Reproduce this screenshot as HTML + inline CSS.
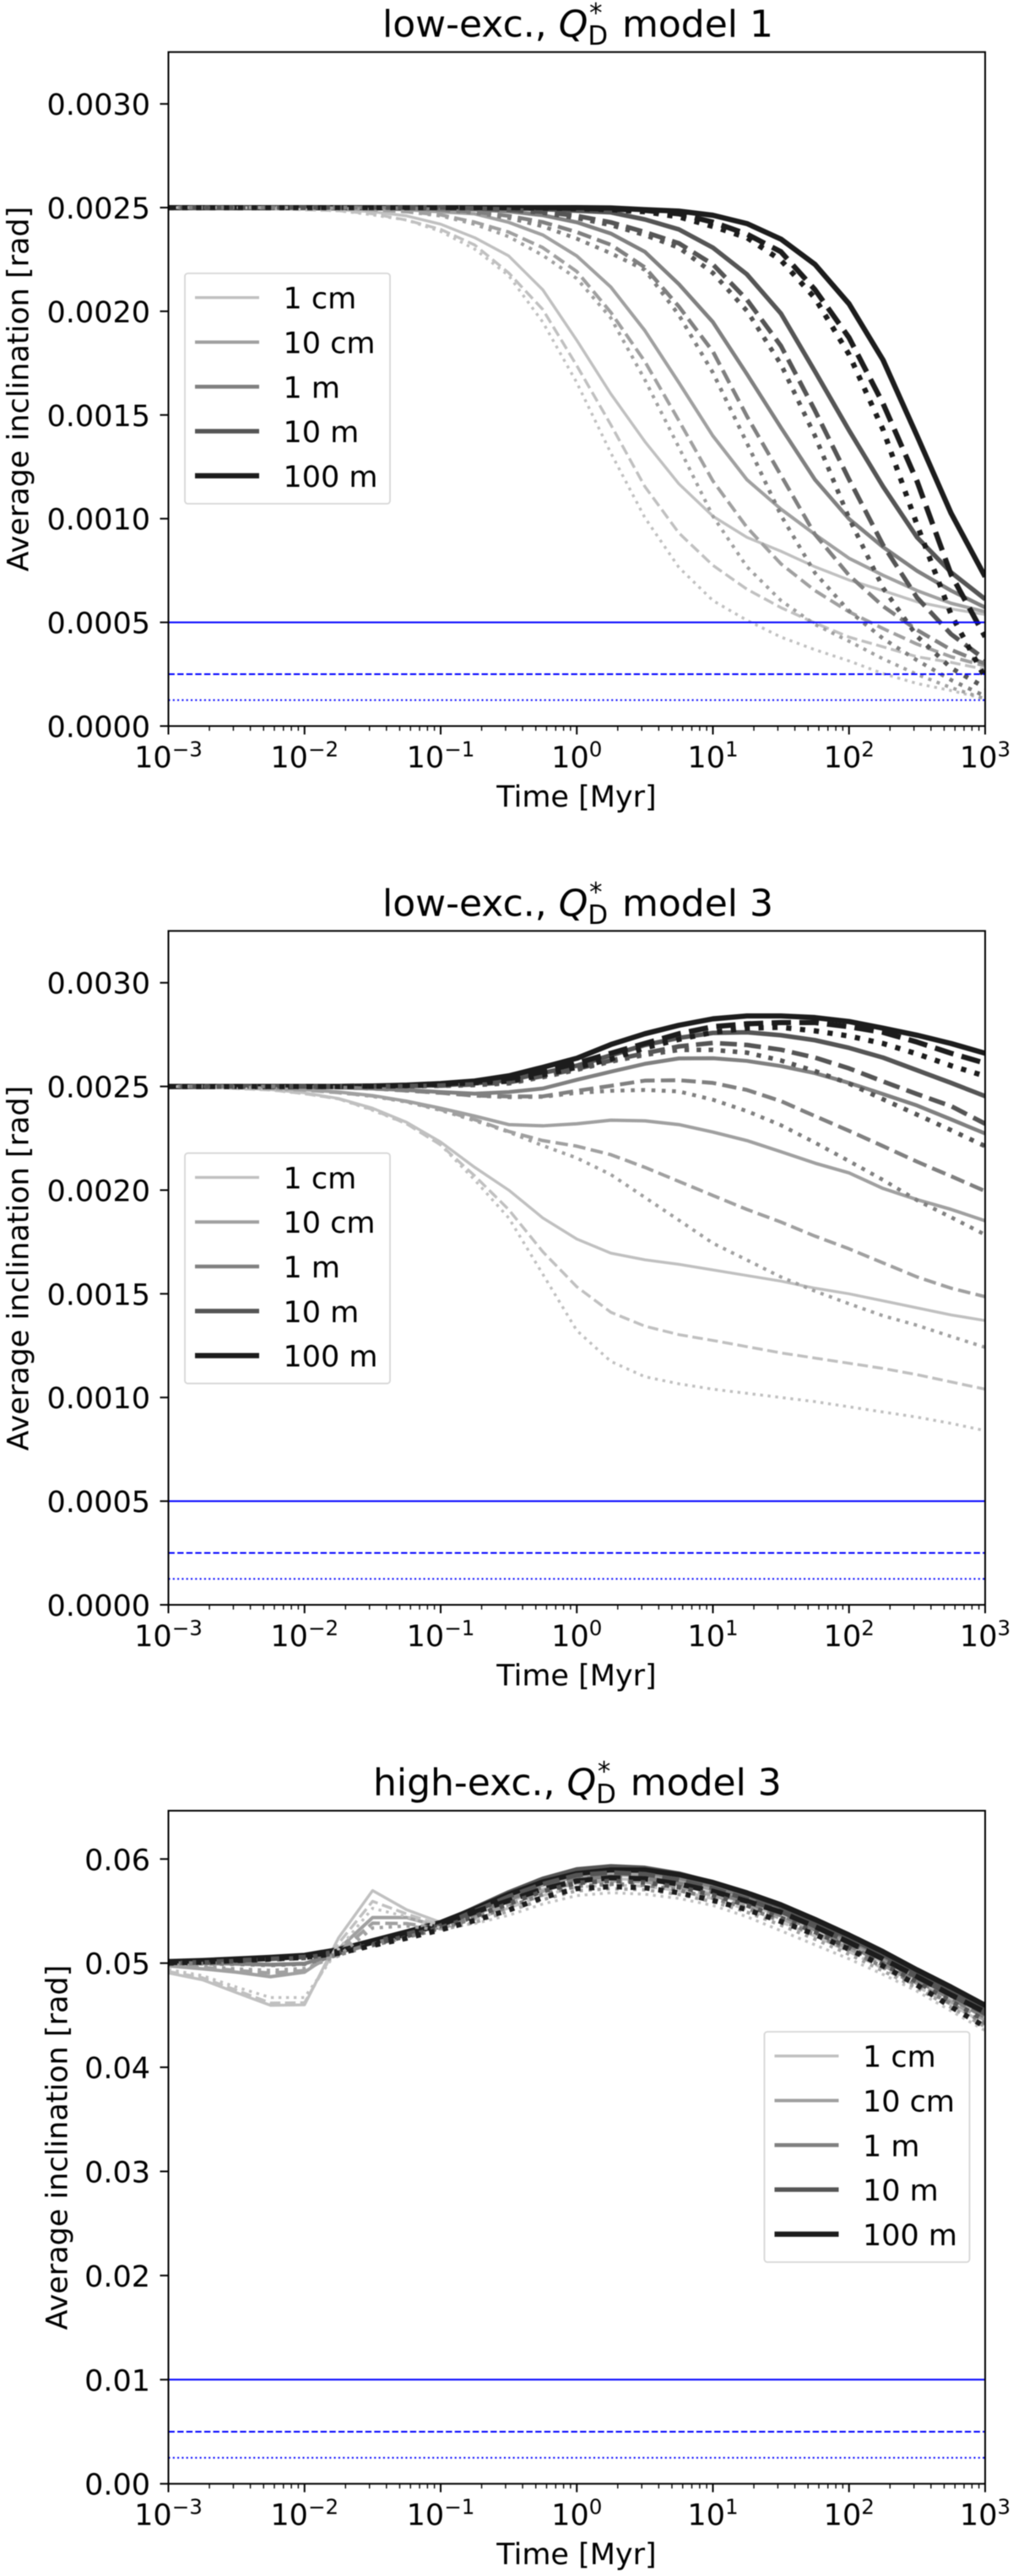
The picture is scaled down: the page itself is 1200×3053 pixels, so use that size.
<!DOCTYPE html>
<html lang="en">
<head>
<meta charset="utf-8">
<title>Average inclination over time</title>
<style>
html,body{margin:0;padding:0;background:#fff;}
svg{display:block;filter:blur(0.45px);}
text{font-family:"DejaVu Sans","Liberation Sans",sans-serif;fill:#000;}
</style>
</head>
<body>
<svg id="figure" xmlns="http://www.w3.org/2000/svg" width="1200" height="3053" viewBox="0 0 1200 3053">
  <rect x="0" y="0" width="1200" height="3053" fill="#fff"/>

  <text x="453" y="43.3" font-size="44">low-exc., <tspan font-style="italic">Q</tspan><tspan font-size="30.8" dy="9.5">D</tspan><tspan font-size="30.8" dx="-22" dy="-27">*</tspan><tspan dx="9.5" dy="17.5"> model 1</tspan></text>
  <text x="453" y="1085.3" font-size="44">low-exc., <tspan font-style="italic">Q</tspan><tspan font-size="30.8" dy="9.5">D</tspan><tspan font-size="30.8" dx="-22" dy="-27">*</tspan><tspan dx="9.5" dy="17.5"> model 3</tspan></text>
  <text x="442" y="2127.5" font-size="44">high-exc., <tspan font-style="italic">Q</tspan><tspan font-size="30.8" dy="9.5">D</tspan><tspan font-size="30.8" dx="-22" dy="-27">*</tspan><tspan dx="9.5" dy="17.5"> model 3</tspan></text>

  <text transform="translate(33.7 461) rotate(-90)" text-anchor="middle" font-size="35">Average inclination [rad]</text>
  <text transform="translate(33.7 1503) rotate(-90)" text-anchor="middle" font-size="35">Average inclination [rad]</text>
  <text transform="translate(79.7 2545) rotate(-90)" text-anchor="middle" font-size="35">Average inclination [rad]</text>

  <text x="683" y="956" text-anchor="middle" font-size="35">Time [Myr]</text>
  <text x="683" y="1997.5" text-anchor="middle" font-size="35">Time [Myr]</text>
  <text x="683" y="3039" text-anchor="middle" font-size="35">Time [Myr]</text>
</svg>

<script>
// Shared x grid: log10 of time in Myr
const logTime = [-3,-2.75,-2.5,-2.25,-2,-1.75,-1.5,-1.25,-1,-0.75,-0.5,-0.25,0,0.25,0.5,0.75,1,1.25,1.5,1.75,2,2.25,2.5,2.75,3];
const xTickExponents = [-3,-2,-1,0,1,2,3];
const xTickLabels = ['\u22123','\u22122','\u22121','0','1','2','3'];
const xTickBase = '10';
const sizeLabels = ['1 cm','10 cm','1 m','10 m','100 m'];

// All inclination values below are in units of 10^-3 rad.
// Panel 1: low-exc., model 1
const p1Cm1Solid = [2.5,2.5,2.5,2.498,2.495,2.49,2.48,2.46,2.42,2.355,2.267,2.104,1.86,1.602,1.372,1.168,1.012,0.91,0.843,0.768,0.704,0.653,0.599,0.565,0.538];
const p1Cm1Dashed = [2.5,2.5,2.5,2.497,2.49,2.485,2.47,2.44,2.395,2.32,2.185,2.009,1.738,1.453,1.155,0.931,0.775,0.66,0.571,0.497,0.429,0.382,0.334,0.307,0.273];
const p1Cm1Dotted = [2.5,2.5,2.5,2.497,2.49,2.485,2.465,2.44,2.385,2.3,2.172,1.948,1.656,1.317,1.005,0.765,0.605,0.51,0.429,0.368,0.314,0.253,0.205,0.171,0.131];
const p1Cm10Solid = [2.5,2.5,2.5,2.5,2.5,2.498,2.495,2.49,2.48,2.47,2.429,2.368,2.267,2.117,1.907,1.656,1.399,1.188,1.046,0.924,0.809,0.727,0.653,0.592,0.551];
const p1Cm10Dashed = [2.5,2.5,2.5,2.5,2.5,2.497,2.49,2.48,2.465,2.43,2.382,2.307,2.192,1.995,1.758,1.473,1.182,0.958,0.782,0.653,0.551,0.47,0.395,0.334,0.29];
const p1Cm10Dotted = [2.5,2.5,2.5,2.5,2.5,2.497,2.49,2.48,2.46,2.42,2.36,2.27,2.158,1.968,1.67,1.344,1.012,0.768,0.605,0.49,0.409,0.324,0.249,0.185,0.131];
const p1M1Solid = [2.5,2.5,2.5,2.5,2.5,2.5,2.5,2.498,2.495,2.49,2.482,2.463,2.429,2.375,2.287,2.131,1.948,1.697,1.439,1.188,0.999,0.863,0.748,0.653,0.572];
const p1M1Dashed = [2.5,2.5,2.5,2.5,2.5,2.5,2.5,2.497,2.49,2.48,2.46,2.43,2.382,2.321,2.212,2.023,1.806,1.494,1.209,0.924,0.727,0.578,0.463,0.368,0.3];
const p1M1Dotted = [2.5,2.5,2.5,2.5,2.5,2.5,2.5,2.497,2.49,2.475,2.45,2.41,2.35,2.28,2.2,1.982,1.704,1.365,1.016,0.738,0.555,0.422,0.317,0.222,0.144];
const p1M10Solid = [2.5,2.5,2.5,2.5,2.5,2.5,2.5,2.5,2.5,2.499,2.497,2.493,2.485,2.477,2.443,2.395,2.307,2.178,1.989,1.71,1.426,1.155,0.91,0.741,0.612];
const p1M10Dashed = [2.5,2.5,2.5,2.5,2.5,2.5,2.5,2.5,2.5,2.497,2.49,2.48,2.46,2.429,2.382,2.328,2.226,2.056,1.833,1.521,1.19,0.873,0.619,0.443,0.321];
const p1M10Dotted = [2.5,2.5,2.5,2.5,2.5,2.5,2.5,2.5,2.5,2.497,2.49,2.475,2.45,2.416,2.368,2.307,2.185,2.002,1.744,1.399,1.003,0.666,0.433,0.28,0.185];
const p1M100Solid = [2.5,2.5,2.5,2.5,2.5,2.5,2.5,2.5,2.5,2.5,2.5,2.5,2.5,2.498,2.49,2.483,2.463,2.423,2.348,2.226,2.036,1.765,1.399,1.026,0.72];
const p1M100Dashed = [2.5,2.5,2.5,2.5,2.5,2.5,2.5,2.5,2.5,2.5,2.5,2.5,2.497,2.493,2.487,2.47,2.43,2.372,2.287,2.104,1.873,1.555,1.18,0.73,0.43];
const p1M100Dotted = [2.5,2.5,2.5,2.5,2.5,2.5,2.5,2.5,2.5,2.5,2.5,2.498,2.495,2.49,2.48,2.455,2.409,2.355,2.246,2.063,1.792,1.429,0.97,0.538,0.233];

// Panel 2: low-exc., model 3
const p2Cm1Solid = [2.5,2.497,2.492,2.485,2.469,2.442,2.395,2.327,2.232,2.11,2.0,1.866,1.764,1.696,1.664,1.642,1.615,1.588,1.561,1.527,1.5,1.466,1.432,1.398,1.371];
const p2Cm1Dashed = [2.5,2.497,2.49,2.483,2.465,2.44,2.388,2.32,2.218,2.069,1.906,1.703,1.534,1.411,1.344,1.303,1.275,1.245,1.215,1.19,1.165,1.14,1.11,1.075,1.04];
const p2Cm1Dotted = [2.5,2.497,2.49,2.483,2.465,2.44,2.385,2.32,2.218,2.049,1.866,1.595,1.323,1.174,1.1,1.066,1.04,1.02,1.0,0.98,0.955,0.93,0.905,0.875,0.84];
const p2Cm10Solid = [2.5,2.5,2.497,2.492,2.485,2.473,2.456,2.429,2.395,2.357,2.316,2.31,2.32,2.337,2.334,2.316,2.28,2.239,2.185,2.13,2.083,2.008,1.954,1.907,1.852];
const p2Cm10Dashed = [2.5,2.5,2.497,2.49,2.483,2.47,2.454,2.427,2.388,2.34,2.283,2.239,2.212,2.171,2.11,2.042,1.974,1.907,1.846,1.778,1.717,1.649,1.581,1.527,1.486];
const p2Cm10Dotted = [2.5,2.5,2.497,2.49,2.483,2.47,2.452,2.425,2.385,2.335,2.28,2.215,2.155,2.075,1.965,1.855,1.744,1.663,1.581,1.513,1.452,1.394,1.348,1.294,1.242];
const p2M1Solid = [2.5,2.5,2.5,2.5,2.498,2.495,2.49,2.483,2.473,2.465,2.473,2.49,2.532,2.571,2.609,2.635,2.636,2.623,2.598,2.564,2.517,2.463,2.408,2.341,2.273];
const p2M1Dashed = [2.5,2.5,2.5,2.5,2.498,2.495,2.49,2.48,2.469,2.456,2.452,2.452,2.479,2.503,2.528,2.53,2.517,2.483,2.429,2.357,2.286,2.212,2.137,2.067,1.995];
const p2M1Dotted = [2.5,2.5,2.5,2.5,2.498,2.495,2.49,2.48,2.469,2.456,2.448,2.45,2.469,2.479,2.483,2.476,2.436,2.381,2.313,2.229,2.14,2.049,1.951,1.869,1.785];
const p2M10Solid = [2.5,2.5,2.5,2.5,2.5,2.5,2.5,2.503,2.506,2.515,2.53,2.565,2.6,2.65,2.7,2.734,2.758,2.761,2.747,2.723,2.686,2.639,2.578,2.517,2.453];
const p2M10Dashed = [2.5,2.5,2.5,2.5,2.5,2.5,2.5,2.502,2.504,2.51,2.52,2.55,2.585,2.625,2.66,2.693,2.71,2.7,2.677,2.639,2.587,2.524,2.463,2.405,2.32];
const p2M10Dotted = [2.5,2.5,2.5,2.5,2.5,2.5,2.5,2.501,2.503,2.507,2.515,2.545,2.58,2.62,2.652,2.676,2.676,2.663,2.625,2.574,2.514,2.438,2.364,2.289,2.212];
const p2M100Solid = [2.5,2.5,2.5,2.5,2.5,2.5,2.502,2.506,2.514,2.526,2.551,2.592,2.636,2.702,2.754,2.795,2.826,2.84,2.84,2.832,2.813,2.781,2.747,2.707,2.66];
const p2M100Dashed = [2.5,2.5,2.5,2.5,2.5,2.5,2.501,2.505,2.512,2.522,2.537,2.571,2.612,2.66,2.707,2.754,2.788,2.802,2.808,2.808,2.788,2.761,2.714,2.66,2.612];
const p2M100Dotted = [2.5,2.5,2.5,2.5,2.5,2.5,2.501,2.504,2.51,2.518,2.525,2.555,2.592,2.632,2.686,2.727,2.761,2.781,2.785,2.768,2.743,2.707,2.657,2.6,2.55];

// Panel 3: high-exc., model 3
const p3Cm1Solid = [49.06,48.4,47.16,45.95,46.0,52.43,56.97,55.13,53.92,54.6,55.9,57.1,57.9,58.1,58.0,57.5,56.7,55.7,54.5,53.15,51.7,50.1,48.35,46.6,44.8];
const p3Cm1Dashed = [49.2,48.6,47.4,46.17,46.2,51.9,55.94,54.73,53.65,54.2,55.3,56.5,57.3,57.5,57.4,56.95,56.2,55.15,53.95,52.6,51.1,49.5,47.75,46.0,44.2];
const p3Cm1Dotted = [49.4,48.8,47.7,46.7,46.7,51.35,55.27,54.46,53.38,53.8,54.6,55.68,56.49,56.76,56.62,56.22,55.54,54.46,53.11,51.76,50.41,48.92,47.3,45.41,43.52];
const p3Cm10Solid = [49.73,49.46,49.13,48.7,49.13,51.35,54.38,54.38,53.5,55,56.3,57.5,58.3,58.5,58.4,57.85,57.05,56,54.85,53.45,52,50.35,48.6,46.85,45.05];
const p3Cm10Dashed = [49.8,49.6,49.3,49.05,49.3,51,53.84,53.8,53.3,54.4,55.6,56.9,57.7,57.9,57.8,57.3,56.5,55.5,54.3,52.9,51.4,49.8,48.05,46.3,44.5];
const p3Cm10Dotted = [49.85,49.7,49.45,49.3,49.5,50.7,53.38,53.57,53.2,53.9,55,56.1,56.95,57.15,57.05,56.6,55.9,54.9,53.65,52.3,50.85,49.25,47.6,45.75,43.9];
const p3M1Solid = [50,50,49.95,49.86,49.95,51,52,52.85,53.7,55.1,56.7,57.9,58.7,58.9,58.75,58.2,57.4,56.35,55.15,53.75,52.25,50.6,48.85,47.1,45.3];
const p3M1Dashed = [50,50,49.95,49.85,49.95,50.9,51.9,52.7,53.5,54.7,56.1,57.3,58.1,58.3,58.15,57.65,56.85,55.85,54.6,53.2,51.7,50.05,48.3,46.6,44.8];
const p3M1Dotted = [50,49.95,49.9,49.8,49.9,50.8,51.7,52.5,53.3,54.3,55.4,56.6,57.4,57.6,57.5,57.0,56.25,55.3,54.1,52.75,51.25,49.65,47.95,46.1,44.2];
const p3M10Solid = [50.1,50.2,50.35,50.5,50.7,51.3,52.1,52.95,53.8,55.3,56.8,58.1,59,59.3,59.15,58.6,57.75,56.65,55.45,54,52.45,50.8,49.1,47.4,45.6];
const p3M10Dashed = [50,50.1,50.25,50.4,50.6,51.15,52,52.8,53.6,55,56.4,57.6,58.45,58.7,58.55,58,57.2,56.15,54.95,53.55,52,50.35,48.65,46.95,45.15];
const p3M10Dotted = [50,50.05,50.2,50.35,50.5,51,51.8,52.6,53.4,54.5,55.7,56.9,57.7,57.9,57.75,57.3,56.55,55.55,54.35,53,51.5,49.9,48.2,46.35,44.5];
const p3M100Solid = [50.15,50.25,50.4,50.55,50.75,51.3,52.15,53,53.9,55.2,56.6,57.8,58.6,58.95,58.95,58.5,57.75,56.75,55.6,54.2,52.7,51.1,49.35,47.7,45.95];
const p3M100Dashed = [50.05,50.15,50.3,50.45,50.65,51.15,52,52.8,53.7,54.9,56,57.1,57.9,58.2,58.1,57.6,56.9,55.95,54.9,53.5,52,50.4,48.7,46.95,45.3];
const p3M100Dotted = [50,50.1,50.25,50.4,50.55,50.95,51.7,52.4,53.2,54.1,55.1,56.3,57.16,57.35,57.24,56.76,56.03,55.14,54,52.76,51.35,49.73,47.9,45.8,43.9];

// Horizontal reference levels (solid, dashed, dotted)
const lowExcLimits = [0.5,0.25,0.125];
const highExcLimits = [10,5,2.5];

// Y tick values and their printed labels
const lowExcYTicks = [0,0.5,1,1.5,2,2.5,3];
const lowExcYLabels = ['0.0000','0.0005','0.0010','0.0015','0.0020','0.0025','0.0030'];
const highExcYTicks = [0,10,20,30,40,50,60];
const highExcYLabels = ['0.00','0.01','0.02','0.03','0.04','0.05','0.06'];

// Rendering
const SVG_NS = 'http://www.w3.org/2000/svg';
const figure = document.getElementById('figure');
const plotLeft = 199.5, plotRight = 1167;
const xMin = -3, xMax = 3;
const sizeColors = ['#c0c0c0','#a0a0a0','#808080','#555555','#1c1c1c'];
const sizeWidths = [3.4,4,4.6,5.4,6.2];
const sizeKeys = ['1cm','10cm','1m','10m','100m'];
const styleKeys = ['solid','dashed','dotted'];
const dashFactors = [null,[3.7,1.6],[1,1.65]];

function make(tag, parent, attrs, text) {
  const el = document.createElementNS(SVG_NS, tag);
  for (const key in attrs) el.setAttribute(key, attrs[key]);
  if (text !== undefined) el.textContent = text;
  parent.appendChild(el);
  return el;
}
function xScale(logValue) {
  return plotLeft + (logValue - xMin) / (xMax - xMin) * (plotRight - plotLeft);
}
function dashFor(styleIndex, width) {
  const f = dashFactors[styleIndex];
  return f ? f.map(function (m) { return (m * width).toFixed(2); }).join(' ') : 'none';
}

function drawPanel(cfg) {
  const yScale = function (v) {
    return cfg.bottom - (v - 0) * (cfg.bottom - cfg.top) / cfg.yMax;
  };
  const panel = make('g', figure, {});
  
  

  const clip = make('clipPath', panel, { id: cfg.name + '-clip' });
  
  
  make('rect', clip, { x: plotLeft, y: cfg.top, width: plotRight - plotLeft, height: cfg.bottom - cfg.top });

  const marks = make('g', panel, { 'clip-path': 'url(#' + cfg.name + '-clip)' });
  
  

  // Series: every solid line first, then dashed, then dotted
  styleKeys.forEach(function (styleKey, styleIndex) {
    cfg.series.forEach(function (group, sizeIndex) {
      const values = group[styleIndex];
      const points = values.map(function (v, i) {
        return xScale(logTime[i]).toFixed(2) + ',' + yScale(v).toFixed(2);
      }).join(' ');
      const line = make('polyline', marks, {
        points: points,
        fill: 'none',
        stroke: sizeColors[sizeIndex],
        'stroke-width': sizeWidths[sizeIndex],
        'stroke-dasharray': dashFor(styleIndex, sizeWidths[sizeIndex]),
        'stroke-linejoin': 'round',
        'stroke-linecap': 'butt'
      });
      
      
    });
  });

  // Reference levels
  const limitWidths = [2,2,2];
  cfg.limits.forEach(function (level, i) {
    const rule = make('line', marks, {
      x1: plotLeft, x2: plotRight, y1: yScale(level), y2: yScale(level),
      stroke: '#0000ff',
      'stroke-width': limitWidths[i],
      'stroke-dasharray': dashFor(i, limitWidths[i])
    });
    
    
  });

  // Y ticks
  cfg.yTicks.forEach(function (v, i) {
    const y = yScale(v);
    const tick = make('line', panel, { x1: plotLeft - 10, x2: plotLeft, y1: y, y2: y, stroke: '#000', 'stroke-width': 2 });
    
    
    const label = make('text', panel, { x: 178, y: y + 13, 'text-anchor': 'end', 'font-size': 35 }, cfg.yLabels[i]);
    
    
  });

  // X ticks
  xTickExponents.forEach(function (exp, i) {
    const x = xScale(exp);
    const tick = make('line', panel, { x1: x, x2: x, y1: cfg.bottom, y2: cfg.bottom + 10, stroke: '#000', 'stroke-width': 2 });
    
    
    const label = make('text', panel, { x: x, y: cfg.bottom + 49, 'text-anchor': 'middle', 'font-size': 35 }, xTickBase);
    
    
    const sup = make('tspan', label, { dy: -13, 'font-size': 24.5 }, xTickLabels[i]);
    
    
    if (i < xTickExponents.length - 1) {
      for (let m = 2; m <= 9; m++) {
        const mx = xScale(exp + Math.log10(m));
        const minor = make('line', panel, { x1: mx, x2: mx, y1: cfg.bottom, y2: cfg.bottom + 5.6, stroke: '#000', 'stroke-width': 1.4 });
        
        
      }
    }
  });

  // Frame
  const frame = make('rect', panel, {
    x: plotLeft, y: cfg.top, width: plotRight - plotLeft, height: cfg.bottom - cfg.top,
    fill: 'none', stroke: '#000', 'stroke-width': 2
  });
  
  

  // Legend
  const legend = make('g', panel, {});
  
  
  const box = make('rect', legend, {
    x: cfg.legendX, y: cfg.legendY, width: 243, height: 273, rx: 3.5, ry: 3.5,
    fill: '#fff', 'fill-opacity': 0.8, stroke: '#d6d6d6', 'stroke-width': 1.8
  });
  
  
  sizeLabels.forEach(function (label, i) {
    const rowY = cfg.legendY + 28.7 + i * 52.8;
    const swatch = make('line', legend, {
      x1: cfg.legendX + 12, x2: cfg.legendX + 88, y1: rowY, y2: rowY,
      stroke: sizeColors[i], 'stroke-width': sizeWidths[i]
    });
    
    
    const text = make('text', legend, { x: cfg.legendX + 116.5, y: rowY + 13, 'font-size': 35 }, label);
    
    
  });
}

drawPanel({
  name: 'panel-1', top: 61.7, bottom: 860.5, yMax: 3.25,
  yTicks: lowExcYTicks, yLabels: lowExcYLabels, limits: lowExcLimits,
  legendX: 219, legendY: 324,
  series: [
    [p1Cm1Solid, p1Cm1Dashed, p1Cm1Dotted],
    [p1Cm10Solid, p1Cm10Dashed, p1Cm10Dotted],
    [p1M1Solid, p1M1Dashed, p1M1Dotted],
    [p1M10Solid, p1M10Dashed, p1M10Dotted],
    [p1M100Solid, p1M100Dashed, p1M100Dotted]
  ]
});
drawPanel({
  name: 'panel-2', top: 1103.3, bottom: 1902, yMax: 3.25,
  yTicks: lowExcYTicks, yLabels: lowExcYLabels, limits: lowExcLimits,
  legendX: 219, legendY: 1366.7,
  series: [
    [p2Cm1Solid, p2Cm1Dashed, p2Cm1Dotted],
    [p2Cm10Solid, p2Cm10Dashed, p2Cm10Dotted],
    [p2M1Solid, p2M1Dashed, p2M1Dotted],
    [p2M10Solid, p2M10Dashed, p2M10Dotted],
    [p2M100Solid, p2M100Dashed, p2M100Dotted]
  ]
});
drawPanel({
  name: 'panel-3', top: 2146, bottom: 2943.7, yMax: 64.64,
  yTicks: highExcYTicks, yLabels: highExcYLabels, limits: highExcLimits,
  legendX: 905.5, legendY: 2408,
  series: [
    [p3Cm1Solid, p3Cm1Dashed, p3Cm1Dotted],
    [p3Cm10Solid, p3Cm10Dashed, p3Cm10Dotted],
    [p3M1Solid, p3M1Dashed, p3M1Dotted],
    [p3M10Solid, p3M10Dashed, p3M10Dotted],
    [p3M100Solid, p3M100Dashed, p3M100Dotted]
  ]
});
</script>
</body>
</html>
